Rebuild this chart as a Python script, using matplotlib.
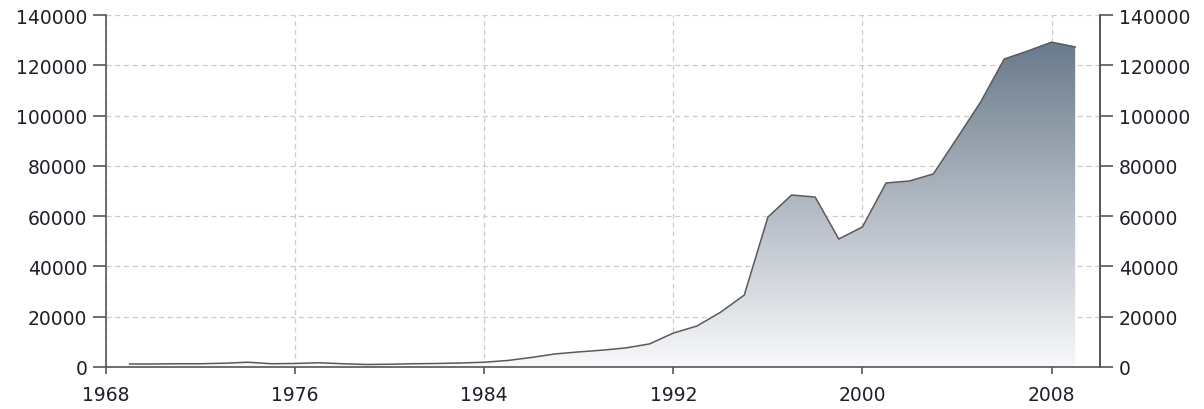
import matplotlib
matplotlib.use('Agg')
import matplotlib.pyplot as plt
import numpy as np
from matplotlib.colors import LinearSegmentedColormap

years = list(range(1969, 2010))
values = [1200, 1200, 1300, 1300, 1500, 1900, 1300, 1400, 1700, 1300,
          1000, 1100, 1300, 1400, 1600, 1900, 2600, 3800, 5200, 6000,
          6700, 7600, 9200, 13500, 16300, 21800, 28600, 59600, 68400, 67600,
          50900, 55700, 73200, 74000, 76800, 91000, 105400, 122500, 125700, 129200,
          127300]

x_ticks = [1968, 1976, 1984, 1992, 2000, 2008]
y_ticks = list(range(0, 140001, 20000))

text_color = '#1f1f2a'
spine_color = '#555555'

fig = plt.figure(figsize=(12.04, 4.10), dpi=100)
ax = fig.add_axes([106 / 1204, 42 / 410, 994 / 1204, 352 / 410])

ax.set_xlim(1968, 2010.05)
ax.set_ylim(0, 140000)

# gradient fill under the line
poly = ax.fill_between(years, values, 0, color='none')
cmap = LinearSegmentedColormap.from_list('slate', ['#f9f9fb', '#6a7a8b'])
grad = np.linspace(0, 1, 256).reshape(-1, 1)
img = ax.imshow(grad, cmap=cmap, aspect='auto', origin='lower',
                extent=[years[0], years[-1], 0, max(values)], zorder=2)
img.set_clip_path(poly.get_paths()[0], transform=ax.transData)

ax.plot(years, values, color='#5a5a5a', linewidth=1.1, zorder=3)

ax.set_xticks(x_ticks)
ax.set_yticks(y_ticks)
ax.grid(True, color='#cccccc', linestyle=(0, (4, 3)), linewidth=0.9, zorder=0)
ax.set_axisbelow(True)

ax.spines['top'].set_visible(False)
for s in ['left', 'right', 'bottom']:
    ax.spines[s].set_color(spine_color)
    ax.spines[s].set_linewidth(1.2)

ax.tick_params(axis='y', length=9.5, width=1.2, color=spine_color, pad=4,
               labelsize=13.5, labelcolor=text_color)
ax.tick_params(axis='x', length=5, width=1.2, color=spine_color, pad=8,
               labelsize=13.5, labelcolor=text_color)

ax2 = ax.twinx()
ax2.set_ylim(ax.get_ylim())
ax2.set_yticks(y_ticks)
ax2.spines['top'].set_visible(False)
ax2.spines['left'].set_visible(False)
ax2.spines['bottom'].set_visible(False)
ax2.spines['right'].set_color(spine_color)
ax2.spines['right'].set_linewidth(1.2)
ax2.tick_params(axis='y', length=9.5, width=1.2, color=spine_color, pad=4,
                labelsize=13.5, labelcolor=text_color)

fig.savefig('out.png', dpi=100)
